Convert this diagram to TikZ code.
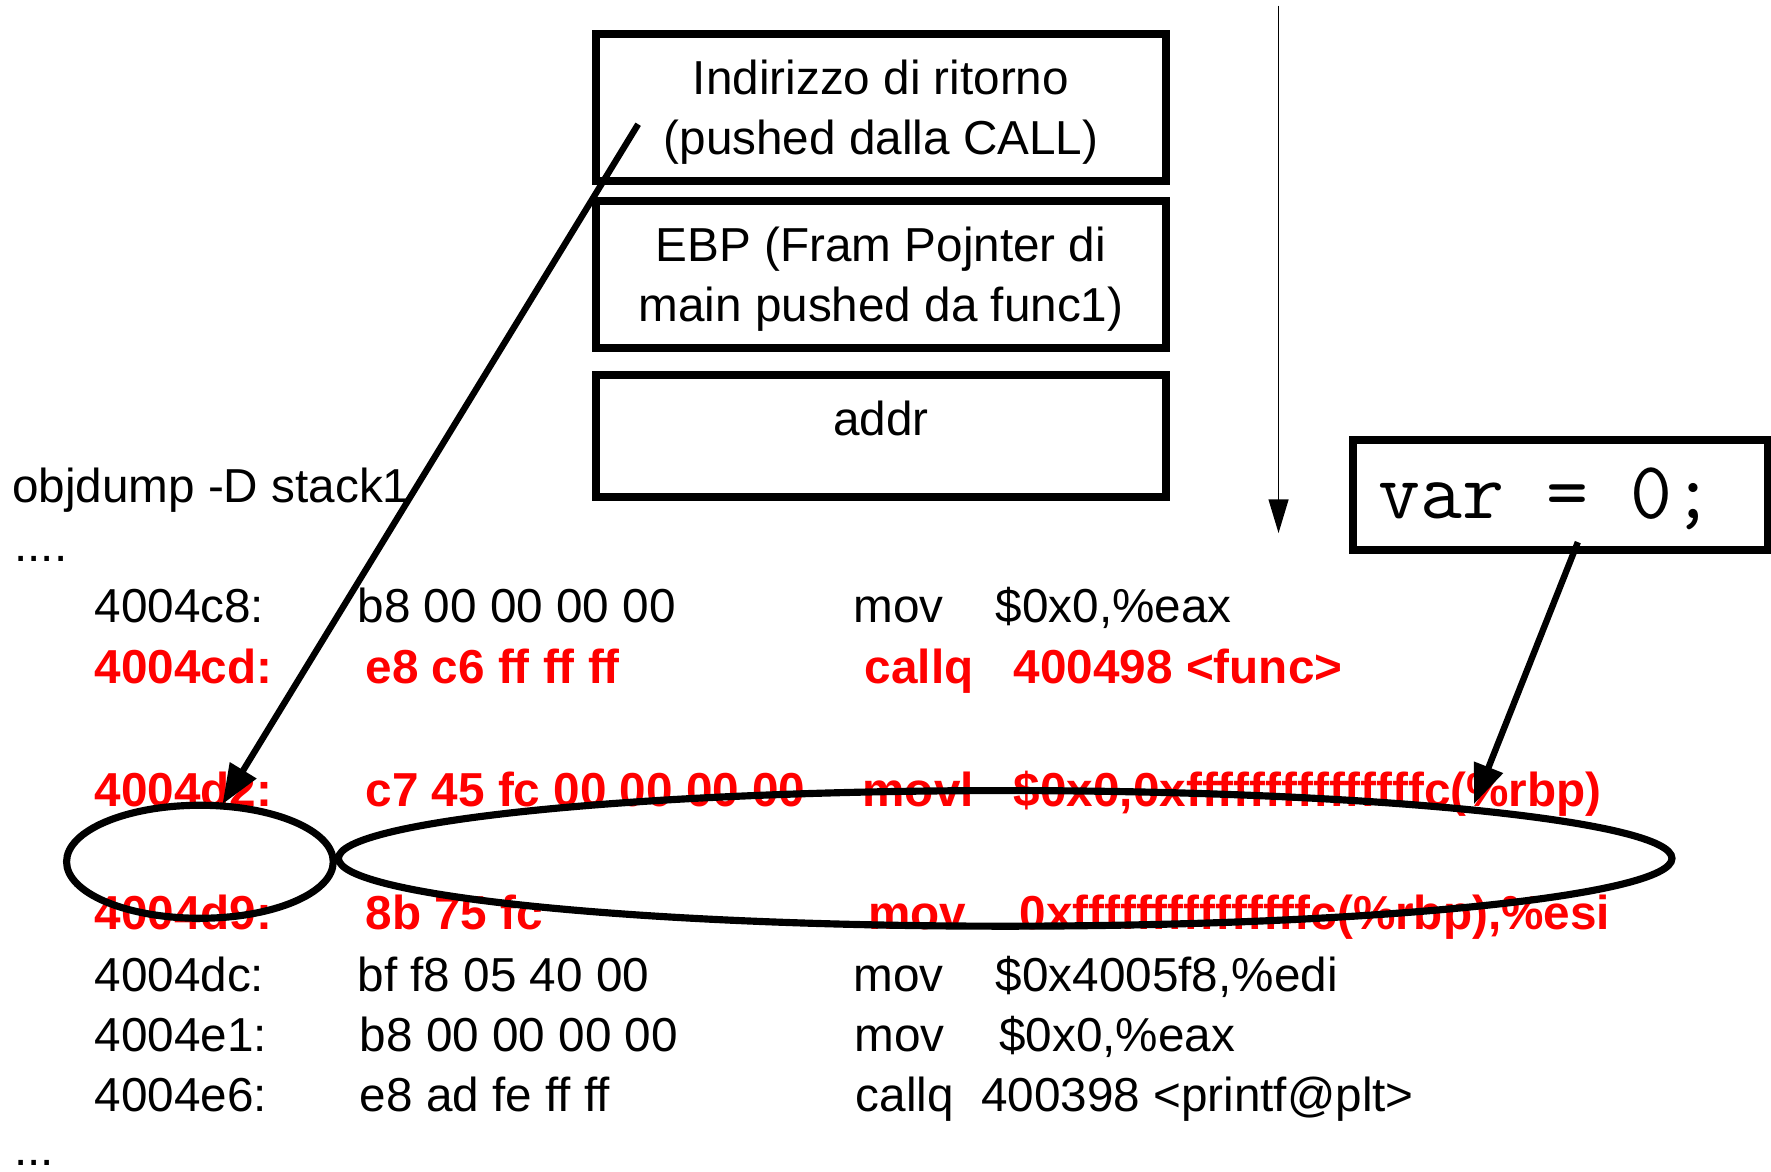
\documentclass[tikz,border=0pt]{standalone}
\usepackage{fontspec}
\setmainfont{Liberation Sans}
\usetikzlibrary{shapes.geometric,arrows.meta}
\begin{document}
\begin{tikzpicture}[x=0.01cm,y=-0.01cm,
  txt/.style={anchor=base west,inner sep=0pt,font=\fontsize{12}{15}\selectfont},
  hot/.style={anchor=base west,inner sep=0pt,text=red,font=\fontsize{12}{15}\selectfont\bfseries},
  stackbox/.style={draw,line width=2pt,minimum width=5.04cm,inner sep=0pt},
  boxtext/.style={align=center,inner sep=0pt,font=\fontsize{12}{15.1}\selectfont},
  ring/.style={draw,ellipse,line width=1.8pt,inner sep=0pt},
  bigarrow/.style={line width=1.6pt,-{Triangle[length=10pt,width=7.5pt]}},
  thinarrow/.style={line width=0.45pt,-{Triangle[length=8.5pt,width=5pt]}}]
\useasboundingbox (0,0) rectangle (1568,1037);

% stack boxes
\node[stackbox,minimum height=1.30cm] (ret) at (780,95) {};
\node[boxtext] (rettxt) at (780,99) {Indirizzo di ritorno\\(pushed dalla CALL)};
\node[stackbox,minimum height=1.30cm] (ebp) at (780,243) {};
\node[boxtext] (ebptxt) at (780,247) {EBP (Fram Pojnter di\\main pushed da func1)};
\node[stackbox,minimum height=1.08cm] (addrbox) at (780,386) {};
\node[txt,anchor=base] (addrtxt) at (780,386) {addr};

% var box
\node[draw,line width=2pt,minimum width=3.67cm,minimum height=0.97cm,inner sep=0pt] (varbox) at (1381.5,438.5) {};
\node[anchor=base west,inner sep=0pt,font=\fontsize{20.5}{24}\selectfont\ttfamily] (vartxt) at (1220,459) {var = 0;};

% listing
\node[txt] (hdr) at (10,445) {objdump -D stack1};
\node[txt] (dots1) at (12,497) {....};

\node[txt] (a1) at (83,551) {4004c8:};
\node[txt] (b1) at (316,551) {b8 00 00 00 00};
\node[txt] (m1) at (755,551) {mov};
\node[txt] (o1) at (881,551) {\$0x0,\%eax};

\node[hot] (a2) at (83,605) {4004cd:};
\node[hot] (b2) at (323,605) {e8 c6 ff ff ff};
\node[hot] (m2) at (765,605) {callq};
\node[hot] (o2) at (897,605) {400498 <func>};

\node[hot] (a3) at (83,714) {4004d2:};
\node[hot] (b3) at (323,714) {c7 45 fc 00 00 00 00};
\node[hot] (m3) at (763,714) {movl};
\node[hot] (o3) at (897,714) {\$0x0,0xfffffffffffffffc(\%rbp)};

\node[hot] (a4) at (83,823) {4004d9:};
\node[hot] (b4) at (323,823) {8b 75 fc};
\node[hot] (m4) at (768,823) {mov};
\node[hot] (o4) at (902,823) {0xfffffffffffffffc(\%rbp),\%esi};

\node[txt] (a5) at (83,878) {4004dc:};
\node[txt] (b5) at (316,878) {bf f8 05 40 00};
\node[txt] (m5) at (755,878) {mov};
\node[txt] (o5) at (881,878) {\$0x4005f8,\%edi};

\node[txt] (a6) at (83,931) {4004e1:};
\node[txt] (b6) at (318,931) {b8 00 00 00 00};
\node[txt] (m6) at (756,931) {mov};
\node[txt] (o6) at (884,931) {\$0x0,\%eax};

\node[txt] (a7) at (83,984) {4004e6:};
\node[txt] (b7) at (318,984) {e8 ad fe ff ff};
\node[txt] (m7) at (757,984) {callq};
\node[txt] (o7) at (868,984) {400398 <printf@plt>};

\node[txt] (dots2) at (12,1032) {...};

% ellipses
\node[ring,minimum width=2.36cm,minimum height=1.00cm] (e1) at (177,763) {};
\node[ring,minimum width=11.80cm,minimum height=1.20cm] (e2) at (890,760) {};

% arrows
\coordinate (s1) at (565,110);
\coordinate (t1) at (197,712);
\draw[bigarrow] (s1) -- (t1);
\coordinate (s2) at (1397,480);
\coordinate (t2) at (1305,712);
\draw[bigarrow] (s2) -- (t2);
\coordinate (s3) at (1132,5);
\coordinate (t3) at (1132,472);
\draw[thinarrow] (s3) -- (t3);
\end{tikzpicture}
\end{document}
